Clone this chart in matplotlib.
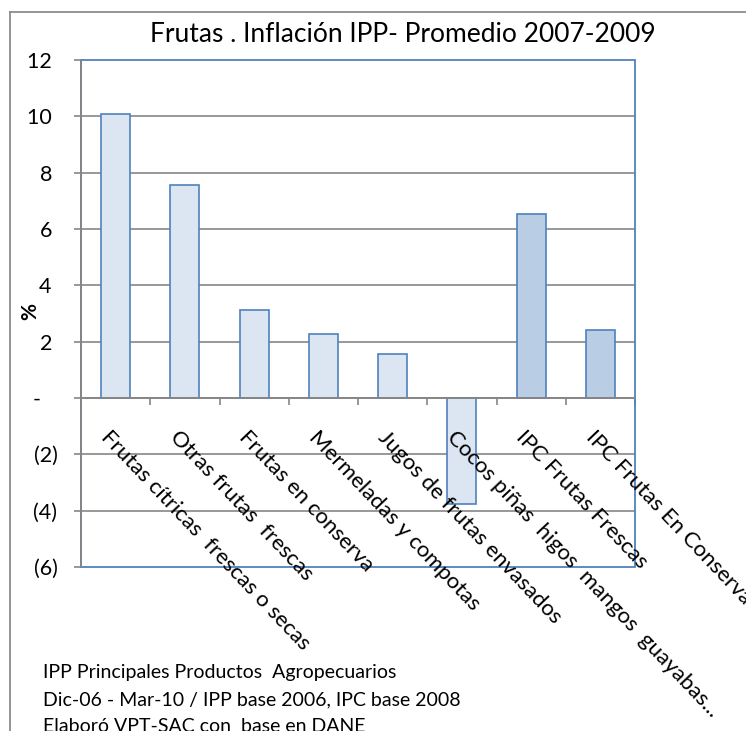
"""Frutas: inflación IPP, promedio 2007-2009 (bar chart, Excel-style)."""

import matplotlib
matplotlib.use("Agg")
import matplotlib.pyplot as plt
import numpy as np
from matplotlib.lines import Line2D
from matplotlib.patches import Rectangle

plt.rcParams["font.family"] = ["Lato", "DejaVu Sans"]

INK = "#000000"
AXIS_GRAY = "#868686"
BORDER_BLUE = "#4f81bd"
FILL_LIGHT = "#dce6f2"
FILL_DARK = "#b9cde5"
FRAME_GRAY = "#8c8c8c"

categories = [
    "Frutas cítricas  frescas o secas",
    "Otras frutas  frescas",
    "Frutas en conserva",
    "Mermeladas y compotas",
    "Jugos de frutas envasados",
    "Cocos piñas  higos  mangos  guayabas...",
    "IPC Frutas Frescas",
    "IPC Frutas En Conserva",
]
values = [10.1, 7.55, 3.12, 2.27, 1.57, -3.76, 6.55, 2.4]
is_ipc = [False, False, False, False, False, False, True, True]

y_ticks = [-6, -4, -2, 0, 2, 4, 6, 8, 10, 12]
y_tick_labels = ["(6)", "(4)", "(2)", "-   ", "2 ", "4 ", "6 ", "8 ", "10 ", "12 "]

title = "Frutas . Inflación IPP- Promedio 2007-2009"
footnote = [
    "IPP Principales Productos  Agropecuarios",
    "Dic-06 - Mar-10 / IPP base 2006, IPC base 2008",
    "Elaboró VPT-SAC con  base en DANE",
]

W, H = 746, 731
fig = plt.figure(figsize=(W / 100, H / 100), dpi=100)
fig.patch.set_facecolor("white")

# outer chart frame (left and top edges visible)
fig.add_artist(Line2D([10 / W, 10 / W], [0, 1 - 12 / H], color=FRAME_GRAY, lw=1.3))
fig.add_artist(Line2D([10 / W, 1], [1 - 12 / H, 1 - 12 / H], color=FRAME_GRAY, lw=1.3))

ax = fig.add_axes([81 / W, 1 - 567 / H, (635 - 81) / W, (567 - 60) / H])
x = np.arange(len(categories))
colors = [FILL_DARK if ipc else FILL_LIGHT for ipc in is_ipc]
ax.bar(x, values, width=0.42, color=colors, edgecolor=BORDER_BLUE, linewidth=1.2,
       zorder=3)

ax.set_xlim(-0.5, len(categories) - 0.5)
ax.set_ylim(-6, 12)
ax.set_yticks(y_ticks)
ax.set_yticklabels(y_tick_labels, fontsize=15.5, color=INK)
ax.tick_params(axis="y", direction="out", length=5, width=1.2, color=AXIS_GRAY, pad=12)
for yv in y_ticks[1:-1]:
    ax.axhline(yv, color=AXIS_GRAY, lw=1.2, zorder=1)

# plot-area border in blue
ax.add_patch(Rectangle((0, 0), 1, 1, transform=ax.transAxes, fill=False,
                       edgecolor=BORDER_BLUE, lw=1.3, zorder=2, clip_on=False))

for s in ("top", "right"):
    ax.spines[s].set_visible(False)
ax.spines["left"].set_color(AXIS_GRAY)
ax.spines["left"].set_linewidth(1.3)
ax.spines["left"].set_zorder(4)
ax.spines["bottom"].set_position(("data", 0))
ax.spines["bottom"].set_color(AXIS_GRAY)
ax.spines["bottom"].set_linewidth(1.3)
ax.spines["bottom"].set_zorder(4)

ax.set_xticks(np.arange(-0.5, len(categories), 1))
ax.set_xticklabels([])
ax.tick_params(axis="x", direction="out", length=5, width=1.2, color=AXIS_GRAY)

for xi, label in zip(x, categories):
    ax.annotate(label, xy=(xi, 0), xycoords="data", xytext=(-3, -21),
                textcoords="offset points", rotation=-46.5, rotation_mode="anchor",
                ha="left", va="top", fontsize=16, color=INK, annotation_clip=False)

fig.text(30 / W, 1 - 312 / H, "%", rotation=90, ha="center", va="center",
         fontsize=15, fontweight="bold", color=INK)
fig.text(403 / W, 1 - 42 / H, title, ha="center", va="baseline", fontsize=19,
         color=INK)
for i, line in enumerate(footnote):
    fig.text(43 / W, 1 - (678 + 27 * i) / H, line, ha="left", va="baseline",
             fontsize=14, color=INK)

fig.savefig("out.png", dpi=100, facecolor="white")
